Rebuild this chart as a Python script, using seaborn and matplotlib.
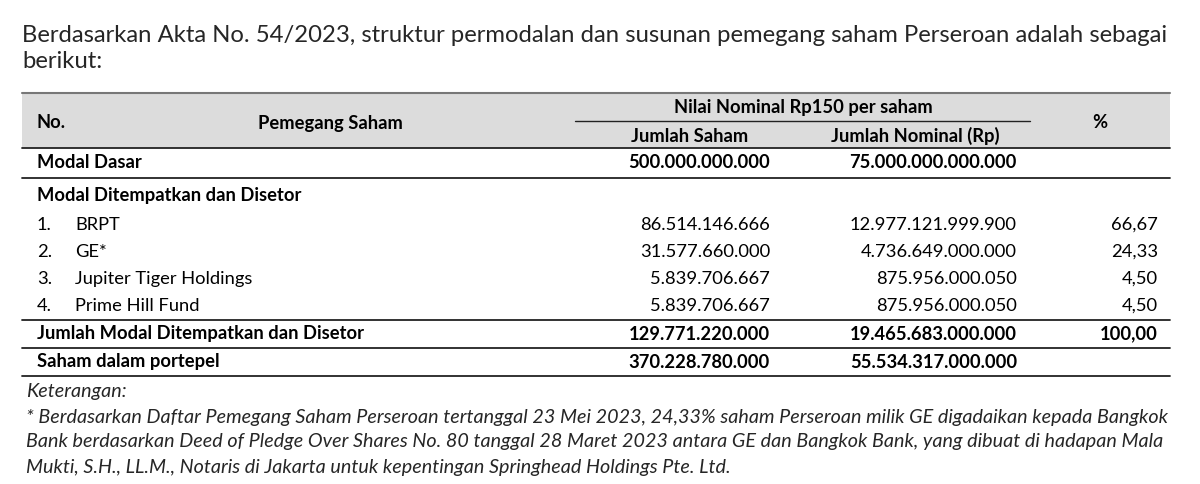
import matplotlib
matplotlib.use("Agg")
import matplotlib.pyplot as plt
import seaborn as sns

sns.set_theme(style="white")
plt.rcParams['font.family'] = ['Lato', 'DejaVu Sans']

title_lines = ["Berdasarkan Akta No. 54/2023, struktur permodalan dan susunan pemegang saham Perseroan adalah sebagai",
               "berikut:"]
header_group = "Nilai Nominal Rp150 per saham"
headers = ["No.", "Pemegang Saham", "Jumlah Saham", "Jumlah Nominal (Rp)", "%"]
row_no = ["1.", "2.", "3.", "4."]
holders = ["BRPT", "GE*", "Jupiter Tiger Holdings", "Prime Hill Fund"]
shares = ["86.514.146.666", "31.577.660.000", "5.839.706.667", "5.839.706.667"]
nominal = ["12.977.121.999.900", "4.736.649.000.000", "875.956.000.050", "875.956.000.050"]
pct = ["66,67", "24,33", "4,50", "4,50"]
modal_dasar = ["Modal Dasar", "500.000.000.000", "75.000.000.000.000"]
section = "Modal Ditempatkan dan Disetor"
total = ["Jumlah Modal Ditempatkan dan Disetor", "129.771.220.000", "19.465.683.000.000", "100,00"]
portepel = ["Saham dalam portepel", "370.228.780.000", "55.534.317.000.000"]
notes = ["Keterangan:",
         "* Berdasarkan Daftar Pemegang Saham Perseroan tertanggal 23 Mei 2023, 24,33% saham Perseroan milik GE digadaikan kepada Bangkok",
         "Bank berdasarkan Deed of Pledge Over Shares No. 80 tanggal 28 Maret 2023 antara GE dan Bangkok Bank, yang dibuat di hadapan Mala",
         "Mukti, S.H., LL.M., Notaris di Jakarta untuk kepentingan Springhead Holdings Pte. Ltd."]

fig = plt.figure(figsize=(12, 4.84), dpi=100)
ax = fig.add_axes([0, 0, 1, 1])
ax.set_xlim(0, 1200); ax.set_ylim(484, 0); ax.axis("off")

fs = 13.2
tk = dict(fontsize=fs, va="center", color="black")
ax.text(22, 35, title_lines[0], fontsize=17.2, va="center")
ax.text(22, 62, title_lines[1], fontsize=17.2, va="center")

ax.fill_between([22, 1170], 93, 148, color="#dcdcdc", lw=0, zorder=0)
lc = "#222222"
ax.plot([22, 1170], [93, 93], color="#777777", lw=1.5)
ax.plot([575, 1030], [121, 121], color=lc, lw=1)
for y in [148, 178, 320, 348, 376]:
    ax.plot([22, 1170], [y, y], color=lc, lw=1.3)

ax.text(37, 123, headers[0], fontweight="bold", **tk)
ax.text(330, 123, headers[1], fontweight="bold", ha="center", **tk)
ax.text(803, 108, header_group, fontweight="bold", ha="center", **tk)
ax.text(690, 136, headers[2], fontweight="bold", ha="center", **tk)
ax.text(915, 136, headers[3], fontweight="bold", ha="center", **tk)
ax.text(1100, 123, headers[4], fontweight="bold", ha="center", **tk)

xs, xn, xp = 770, 1017, 1158
def row(y, label, s, n, p=None, bold=True):
    w = "bold" if bold else "normal"
    ax.text(37, y, label, fontweight=w, **tk)
    ax.text(xs, y, s, fontweight=w, ha="right", **tk)
    ax.text(xn, y, n, fontweight=w, ha="right", **tk)
    if p: ax.text(xp, y, p, fontweight=w, ha="right", **tk)

row(163, *modal_dasar)
ax.text(37, 196, section, fontweight="bold", **tk)
for i in range(4):
    y = 225 + 27 * i
    ax.text(37, y, row_no[i], **tk)
    ax.text(75, y, holders[i], **tk)
    ax.text(xs, y, shares[i], ha="right", **tk)
    ax.text(xn, y, nominal[i], ha="right", **tk)
    ax.text(xp, y, pct[i], ha="right", **tk)
row(334, *total)
row(362, *portepel)

for i, t in enumerate(notes):
    ax.text(26, 392 + 25 * i, t, fontsize=14.2, style="italic", va="center")

fig.savefig("out.png", dpi=100)
